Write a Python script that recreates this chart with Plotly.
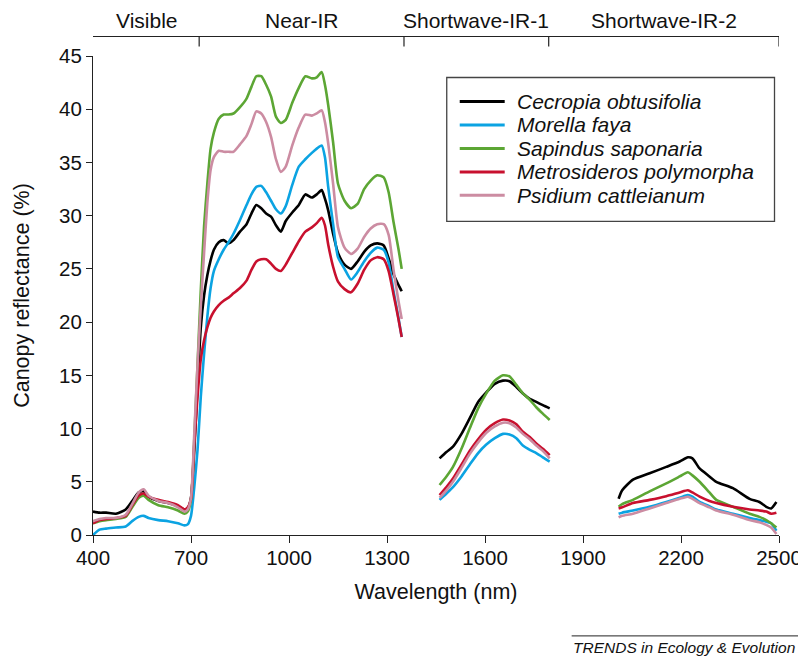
import plotly.graph_objects as go

# ---------------- data ----------------
species = ["Cecropia obtusifolia", "Morella faya", "Sapindus saponaria",
           "Metrosideros polymorpha", "Psidium cattleianum"]
colors = ["#000000", "#0BA3E2", "#5CA634", "#C8102E", "#CC8CA2"]

# Segment 1: visible + near-IR (nm)
wl_vnir = [400, 420, 440, 470, 500, 520, 540, 555, 570, 600, 630, 660, 680, 690,
           700, 710, 720, 730, 740, 750, 760, 770, 785, 800, 815, 830, 850, 870,
           885, 900, 915, 930, 945, 960, 975, 990, 1010, 1030, 1050, 1070, 1085,
           1100, 1110, 1120, 1135, 1150, 1170, 1190, 1210, 1230, 1250, 1270, 1290,
           1305, 1320, 1335, 1345]
# Segment 2: shortwave-IR-1 (nm)
wl_swir1 = [1461, 1482, 1502, 1528, 1553, 1579, 1604, 1630, 1655, 1675, 1696,
            1716, 1737, 1757, 1777, 1798]
# Segment 3: shortwave-IR-2 (nm)
wl_swir2 = [2009, 2020, 2053, 2104, 2155, 2196, 2221, 2235, 2257, 2287, 2308,
            2359, 2410, 2440, 2461, 2476, 2492]

cecropia_vnir = [2.2, 2.1, 2.1, 2.0, 2.4, 3.2, 4.0, 4.1, 3.6, 3.2, 3.0, 2.7, 2.4, 2.5,
                 3.5, 8.0, 14.0, 19.5, 22.5, 24.4, 25.8, 26.8, 27.5, 27.7, 27.4, 27.7,
                 28.5, 29.2, 30.2, 31.0, 30.7, 30.2, 29.9, 29.1, 28.5, 29.5, 30.3, 31.0,
                 32.0, 31.7, 32.0, 32.4, 31.6, 30.5, 28.3, 26.5, 25.4, 25.0, 25.7, 26.6,
                 27.2, 27.4, 27.2, 26.0, 24.5, 23.5, 22.9]
morella_vnir = [0.0, 0.5, 0.6, 0.7, 0.8, 1.3, 1.7, 1.8, 1.6, 1.4, 1.3, 1.1, 0.9, 1.0,
                1.8, 4.5, 8.0, 13.0, 17.0, 20.5, 23.2, 24.8, 25.9, 26.8, 27.5, 28.3,
                29.6, 31.0, 32.0, 32.7, 32.8, 32.2, 31.4, 30.6, 30.2, 30.9, 32.9, 34.6,
                35.3, 35.9, 36.3, 36.6, 35.5, 32.7, 29.2, 26.1, 25.0, 24.0, 24.7, 25.7,
                26.5, 27.0, 26.8, 25.6, 22.9, 20.4, 18.6]
sapindus_vnir = [1.1, 1.3, 1.4, 1.5, 1.7, 2.6, 3.5, 3.7, 3.3, 2.8, 2.6, 2.3, 2.0, 2.2,
                 3.3, 9.0, 16.0, 23.0, 29.0, 33.0, 36.3, 37.8, 39.1, 39.5, 39.5, 39.6,
                 40.2, 41.0, 42.1, 43.1, 43.1, 42.3, 41.2, 39.3, 38.7, 39.0, 40.6, 42.0,
                 43.1, 42.9, 43.0, 43.5, 42.3, 40.4, 36.9, 33.0, 31.4, 30.7, 31.1, 32.5,
                 33.3, 33.8, 33.6, 32.2, 29.4, 26.9, 25.0]
metrosideros_vnir = [1.1, 1.4, 1.5, 1.6, 1.8, 2.8, 3.7, 3.9, 3.6, 3.3, 3.1, 2.8, 2.4, 2.6,
                     3.4, 8.5, 13.0, 16.5, 18.3, 19.5, 20.4, 21.0, 21.6, 22.0, 22.3, 22.7,
                     23.2, 23.9, 24.9, 25.7, 25.9, 25.9, 25.5, 25.0, 24.8, 25.4, 26.5, 27.6,
                     28.5, 28.9, 29.3, 29.8, 29.1, 27.3, 25.2, 23.8, 23.1, 22.8, 23.6, 24.9,
                     25.8, 26.1, 25.9, 24.8, 22.6, 20.3, 18.6]
psidium_vnir = [1.3, 1.5, 1.6, 1.6, 1.9, 2.9, 4.0, 4.3, 3.7, 3.2, 3.0, 2.6, 2.2, 2.4,
                3.5, 9.5, 16.0, 21.5, 26.5, 31.2, 34.3, 35.5, 36.1, 36.0, 36.0, 36.0,
                36.7, 37.5, 38.6, 39.8, 39.6, 38.8, 37.4, 35.3, 34.1, 34.6, 36.6, 38.3,
                39.5, 39.4, 39.6, 39.9, 38.8, 36.8, 33.0, 28.9, 27.0, 26.4, 26.9, 28.0,
                28.8, 29.2, 29.2, 28.2, 24.9, 22.0, 20.3]

cecropia_swir1 = [7.2, 7.8, 8.3, 9.5, 10.95, 12.5, 13.4, 14.2, 14.5, 14.45, 13.9,
                  13.3, 12.8, 12.5, 12.2, 11.9]
morella_swir1 = [3.3, 3.9, 4.5, 5.5, 6.6, 7.7, 8.5, 9.1, 9.5, 9.45, 9.1,
                 8.4, 8.0, 7.7, 7.3, 6.9]
sapindus_swir1 = [4.7, 5.5, 6.4, 8.1, 10.0, 11.9, 13.3, 14.5, 15.0, 14.9, 14.1,
                  13.3, 12.7, 12.0, 11.4, 10.8]
metrosideros_swir1 = [3.75, 4.5, 5.3, 6.6, 7.9, 9.0, 9.9, 10.5, 10.85, 10.75, 10.4,
                      9.7, 9.2, 8.6, 8.1, 7.5]
psidium_swir1 = [3.5, 4.2, 5.0, 6.3, 7.6, 8.7, 9.6, 10.2, 10.55, 10.5, 10.1,
                 9.5, 9.0, 8.4, 7.9, 7.2]

cecropia_swir2 = [3.4, 4.2, 5.2, 5.8, 6.4, 6.9, 7.3, 7.2, 6.25, 5.5, 5.0,
                  4.4, 3.4, 3.1, 2.65, 2.5, 3.1]
morella_swir2 = [2.0, 2.1, 2.3, 2.65, 3.1, 3.5, 3.75, 3.6, 3.1, 2.7, 2.4,
                 2.0, 1.6, 1.4, 1.25, 1.1, 0.4]
sapindus_swir2 = [2.65, 2.9, 3.3, 4.1, 4.85, 5.5, 5.9, 5.6, 5.0, 4.0, 3.3,
                  2.65, 2.0, 1.7, 1.4, 1.1, 0.7]
metrosideros_swir2 = [2.5, 2.6, 3.0, 3.3, 3.65, 4.0, 4.2, 4.0, 3.6, 3.2, 3.0,
                      2.65, 2.4, 2.3, 2.2, 2.0, 2.1]
psidium_swir2 = [1.65, 1.8, 2.0, 2.5, 3.0, 3.4, 3.6, 3.4, 3.0, 2.6, 2.3,
                 1.9, 1.4, 1.2, 0.95, 0.7, 0.1]

series = [
    (cecropia_vnir, cecropia_swir1, cecropia_swir2),
    (morella_vnir, morella_swir1, morella_swir2),
    (sapindus_vnir, sapindus_swir1, sapindus_swir2),
    (metrosideros_vnir, metrosideros_swir1, metrosideros_swir2),
    (psidium_vnir, psidium_swir1, psidium_swir2),
]

region_labels = ["Visible", "Near-IR", "Shortwave-IR-1", "Shortwave-IR-2"]
region_edges = [400, 725, 1352, 1795, 2500]

x_ticks = [400, 700, 1000, 1300, 1600, 1900, 2200, 2500]
y_ticks = [0, 5, 10, 15, 20, 25, 30, 35, 40, 45]

FONT = "Liberation Sans, Arial, Helvetica, sans-serif"

# layout geometry (pixels in the 806x658 window; the page body adds an 8px offset)
OFF = 8
W, H = 806 - OFF, 658 - OFF
ML = 93 - OFF
MT = 55.5 - OFF
PLOT_R = 779.5 - OFF
PLOT_B = 535 - OFF
MR = W - PLOT_R
MB = H - PLOT_B
PW, PH = PLOT_R - ML, PLOT_B - MT


def px(xp):
    return (xp - OFF - ML) / PW


def py(yp):
    return (PLOT_B - (yp - OFF)) / PH


# ---------------- figure ----------------
fig = go.Figure()
x_all = wl_vnir + [None] + wl_swir1 + [None] + wl_swir2
for name, col, (a, b, c) in zip(species, colors, series):
    fig.add_trace(go.Scatter(
        x=x_all, y=a + [None] + b + [None] + c,
        mode="lines", name=name, connectgaps=False, showlegend=False,
        line=dict(color=col, width=2.6, shape="spline", smoothing=0.6),
    ))

shapes = []
annotations = []

# top bracket with region labels
Y_LINE = py(36)
Y_TICK = py(46)
shapes.append(dict(type="line", xref="x", yref="paper", x0=region_edges[0] - 4,
                   x1=region_edges[-1], y0=Y_LINE, y1=Y_LINE,
                   line=dict(color="#222", width=1.2)))
for i, e in enumerate(region_edges):
    xe = e - (4 if i == 0 else 0)
    shapes.append(dict(type="line", xref="x", yref="paper", x0=xe, x1=xe,
                       y0=Y_TICK, y1=Y_LINE, line=dict(color="#222", width=1.2)))
for i, lab in enumerate(region_labels):
    annotations.append(dict(text=lab, xref="x", yref="paper",
                            x=(region_edges[i] + region_edges[i + 1]) / 2, y=py(20),
                            showarrow=False, font=dict(size=21, color="#111", family=FONT),
                            xanchor="center", yanchor="middle"))

# legend box (drawn by hand to match the reference's tight spacing)
shapes.append(dict(type="rect", xref="paper", yref="paper",
                   x0=px(447), x1=px(775), y0=py(221), y1=py(77),
                   line=dict(color="#444", width=1.3), fillcolor="white", layer="above"))
entry_y = [101, 124.5, 148, 171.5, 195]
for name, col, ey in zip(species, colors, entry_y):
    shapes.append(dict(type="line", xref="paper", yref="paper",
                       x0=px(460), x1=px(505), y0=py(ey), y1=py(ey),
                       line=dict(color=col, width=3), layer="above"))
    annotations.append(dict(text="<i>" + name + "</i>", xref="paper", yref="paper",
                            x=px(515), y=py(ey), xanchor="left", yanchor="middle",
                            showarrow=False, font=dict(size=21, color="#111", family=FONT)))

# journal credit
shapes.append(dict(type="line", xref="paper", yref="paper", x0=px(572), x1=px(800),
                   y0=py(636), y1=py(636), line=dict(color="#222", width=1)))
annotations.append(dict(text="<i>TRENDS in Ecology &amp; Evolution</i>", xref="paper",
                        yref="paper", x=px(798), y=py(648), showarrow=False,
                        xanchor="right", yanchor="middle",
                        font=dict(size=15.5, color="#111", family=FONT)))

fig.update_layout(
    width=W, height=H,
    margin=dict(l=ML, r=MR, t=MT, b=MB, autoexpand=False),
    paper_bgcolor="white", plot_bgcolor="white",
    font=dict(family=FONT, color="#111", size=20),
    shapes=shapes, annotations=annotations,
    showlegend=False,
    xaxis=dict(range=[400, 2500], tickvals=x_ticks, ticks="outside", ticklen=7,
               tickwidth=1.2, tickcolor="#222", showline=True, linecolor="#222",
               linewidth=1.2, showgrid=False, zeroline=False, automargin=False,
               tickfont=dict(size=20.5), ticklabelstandoff=-3,
               title=dict(text="Wavelength (nm)", standoff=16, font=dict(size=21.5))),
    yaxis=dict(range=[0, 45], tickvals=y_ticks, ticks="outside", ticklen=6,
               tickwidth=1.2, tickcolor="#222", showline=True, linecolor="#222",
               linewidth=1.2, showgrid=False, zeroline=False, automargin=False,
               tickfont=dict(size=20.5),
               title=dict(text="Canopy reflectance (%)", standoff=23, font=dict(size=21.5))),
)

fig.write_html("out.html")
